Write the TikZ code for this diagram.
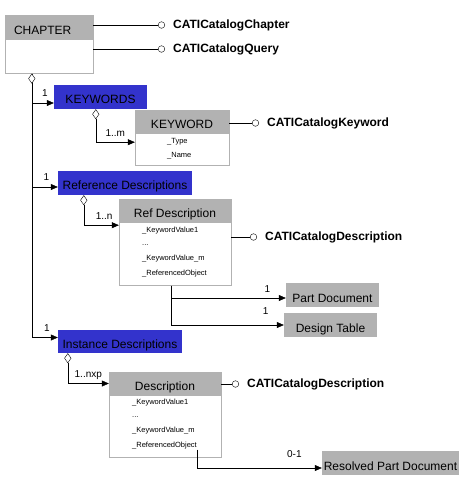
\documentclass[tikz,border=0pt]{standalone}
\usepackage{fontspec}
\setmainfont{Liberation Sans}
\usepackage{xcolor}
\usetikzlibrary{positioning,arrows.meta}

\definecolor{hdrgray}{RGB}{178,178,178}
\definecolor{catblue}{RGB}{51,51,204}

\tikzset{
  hdr/.style={fill=hdrgray, draw=hdrgray, inner sep=0pt, minimum height=24pt, text height=14pt, text depth=0pt, font=\fontsize{12}{14}\selectfont},
  bodybox/.style={draw=hdrgray, fill=white, inner sep=0pt},
  grpbox/.style={fill=catblue, inner sep=0pt, minimum height=24pt, text height=13pt, text depth=0pt, font=\fontsize{12}{14}\selectfont},
  docbox/.style={fill=hdrgray, inner sep=0pt, minimum height=24pt, text height=14pt, text depth=0pt, font=\fontsize{12}{14}\selectfont},
  attr/.style={anchor=west, inner sep=0pt, font=\fontsize{7.5}{9}\selectfont},
  iface/.style={anchor=west, inner sep=0pt, inner xsep=8pt, font=\bfseries\fontsize{12}{14}\selectfont},
  mult/.style={inner sep=0pt, font=\fontsize{10}{12}\selectfont},
  arr/.style={-{Triangle[length=7pt,width=6pt]}},
  own/.style={{Diamond[fill=white,length=10pt,width=7pt]}-{Triangle[length=7pt,width=6pt]}},
  lolli/.style={-{Circle[open,length=7pt]}},
}

\begin{document}
\begin{tikzpicture}[x=1pt, y=-1pt]
                \useasboundingbox (0,0) rectangle (469,488);

                %% CHAPTER
                \node[hdr, text width=70pt, align=left, inner xsep=9pt] (chap) at (49,27) {CHAPTER};
                \node[bodybox, minimum width=88pt, minimum height=34pt, below=0pt of chap] (chapb) {};
                \node[iface] (ichap) at (165,25) {CATICatalogChapter};
                \node[iface] (iquery) at (165,49) {CATICatalogQuery};
                \draw[lolli] (chap.east |- ichap) -- (ichap.west);
                \draw[lolli] (chapb.east |- iquery) -- (iquery.west);

                %% groups
                \node[grpbox, minimum width=93pt] (kws) at (100.5,97) {KEYWORDS};
                \node[grpbox, minimum width=134pt] (refs) at (125,183) {Reference Descriptions};
                \node[grpbox, minimum width=124pt, minimum height=23pt] (insts) at (120,341.5) {Instance Descriptions};

                \coordinate (chapown) at ([xshift=27pt]chapb.south west);
                \draw[arr] (chapown) |- ([yshift=-6pt]kws.west) node[mult, pos=0.8, above=6pt] {1};
                \draw[arr] (chapown) |- ([yshift=-4pt]refs.west) node[mult, pos=0.78, above=6pt] {1};
                \draw[own] (chapown) |- ([yshift=4pt]insts.west) node[mult, pos=0.79, above=6pt] {1};

                %KEYWORD
                \node[hdr, minimum width=94pt, minimum height=23pt] (kw) at (182,121.5) {KEYWORD};
                \node[bodybox, minimum width=94pt, minimum height=32pt, below=0pt of kw] (kwb) {};
                \node[attr] (ktype) at (167,142) {\_Type};
                \node[attr] (kname) at (167,156) {\_Name};
                \node[iface] (ikw) at (259,123) {CATICatalogKeyword};
                \draw[lolli] (kw.east |- ikw) -- (ikw.west);
                \draw[own] ([xshift=42pt]kws.south west) |- ([yshift=-9pt]kwb.north west)
                    node[mult, pos=0.75, above=6pt] {1..m};

                %Ref Description
                \node[hdr, minimum width=112pt, minimum height=23pt] (refd) at (175,210.5) {Ref Description};
                \node[bodybox, minimum width=112pt, minimum height=63pt, below=0pt of refd] (refdb) {};
                \node[attr] (rkv1) at (142,231) {\_KeywordValue1};
                \node[attr] (rdots) at (142,245) {...};
                \node[attr] (rkvm) at (142,259) {\_KeywordValue\_m};
                \node[attr] (rro) at (142,274) {\_ReferencedObject};
                \node[iface] (iref) at (257,237) {CATICatalogDescription};
                \draw[lolli] (refdb.east |- iref) -- (iref.west);
                \draw[own] ([xshift=26pt]refs.south west) |- ([yshift=-3pt]refdb.north west)
                    node[mult, pos=0.79, above=6pt] {1..n};

                \node[docbox, minimum width=93pt] (part) at (332.5,295) {Part Document};
                \node[docbox, minimum width=93pt] (dtab) at (330.5,325) {Design Table};
                \coordinate (refout) at ([xshift=52pt]refdb.south west);
                \draw[arr] (refout) |- ([yshift=-3pt]part.west) node[mult, pos=0.92, above=5pt] {1};
                \draw[arr] (refout) |- (dtab.west) node[mult, pos=0.92, above=10pt] {1};

                %Description
                \node[hdr, minimum width=112pt, minimum height=23pt] (desc) at (165,383.5) {Description};
                \node[bodybox, minimum width=112pt, minimum height=62pt, below=0pt of desc] (descb) {};
                \node[attr] (dkv1) at (132,403) {\_KeywordValue1};
                \node[attr] (ddots) at (132,417) {...};
                \node[attr] (dkvm) at (132,431) {\_KeywordValue\_m};
                \node[attr] (dro) at (132,446) {\_ReferencedObject};
                \node[iface] (idesc) at (239,384) {CATICatalogDescription};
                \draw[lolli] (desc.east |- idesc) -- (idesc.west);
                \draw[own] ([xshift=10pt]insts.south west) |- (desc.west)
                    node[mult, pos=0.75, above=4pt] {1..nxp};

                \node[docbox, minimum width=137pt] (resolved) at (390.5,463) {Resolved Part Document};
                \draw[arr] (dro.south east) |- ([yshift=-5pt]resolved.west)
                    node[mult, pos=0.89, above=10pt] {0-1};

\end{tikzpicture}
\end{document}
